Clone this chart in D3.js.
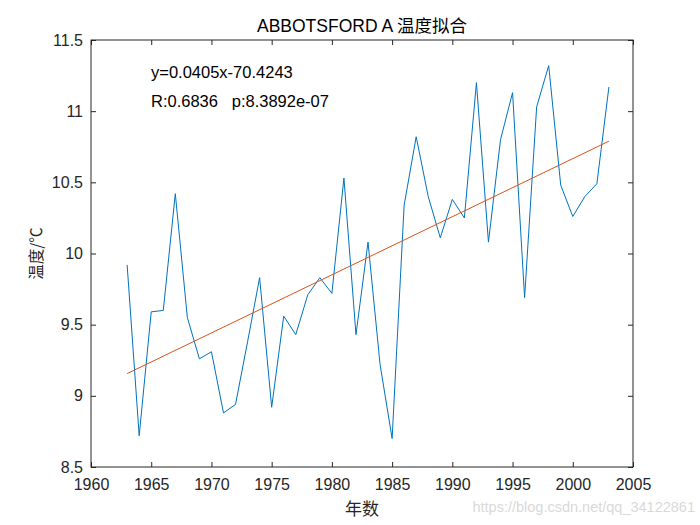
<!DOCTYPE html>
<html><head><meta charset="utf-8">
<script src="https://cdn.jsdelivr.net/npm/d3@7"></script>
<style>body{margin:0;background:#fff}svg{display:block}</style>
</head><body>
<script>
const years = d3.range(1963, 2004);
const temps = [9.92,8.72,9.59,9.60,10.42,9.55,9.26,9.31,8.88,8.94,
  9.38,9.83,8.92,9.56,9.43,9.71,9.83,9.72,10.53,9.43,
  10.08,9.22,8.70,10.34,10.82,10.40,10.11,10.38,10.25,11.20,
  10.08,10.80,11.13,9.69,11.03,11.32,10.48,10.26,10.40,10.49,11.17];
const xTicks = [1960,1965,1970,1975,1980,1985,1990,1995,2000,2005];
const yTicks = [8.5,9,9.5,10,10.5,11,11.5];
const titleText = "ABBOTSFORD A 温度拟合";
const xLabel = "年数";
const yLabel = "温度/℃";
const fitLines = ["y=0.0405x-70.4243", "R:0.6836   p:8.3892e-07"];
const watermark = "https://blog.csdn.net/qq_34122861";

const W = 700, H = 525;
const m = {l: 91, r: 67, t: 40, b: 58};
const svg = d3.select("body").append("svg").attr("width", W).attr("height", H);
const x = d3.scaleLinear().domain([1960, 2005]).range([m.l, W - m.r]);
const y = d3.scaleLinear().domain([8.5, 11.5]).range([H - m.b, m.t]);
const font = "'Liberation Sans', Arial, sans-serif";
const cjk = "'Noto Sans CJK SC', sans-serif";
const fs = 16;

const axB = d3.axisBottom(x).tickValues(xTicks).tickSize(-5).tickPadding(12).tickFormat(d3.format("d"));
const axT = d3.axisTop(x).tickValues(xTicks).tickSize(-5).tickFormat("");
const axL = d3.axisLeft(y).tickValues(yTicks).tickSize(-5).tickPadding(8).tickFormat(d => String(d));
const axR = d3.axisRight(y).tickValues(yTicks).tickSize(-5).tickFormat("");
function style(sel){
  sel.select(".domain").remove();
  sel.selectAll("line").attr("stroke", "#262626").attr("stroke-width", 1);
  sel.selectAll("text").attr("font-family", font).attr("font-size", fs).attr("fill", "#262626");
}
svg.append("g").attr("transform", `translate(0,${H - m.b})`).call(axB).call(style);
svg.append("g").attr("transform", `translate(0,${m.t})`).call(axT).call(style);
svg.append("g").attr("transform", `translate(${m.l},0)`).call(axL).call(style);
svg.append("g").attr("transform", `translate(${W - m.r},0)`).call(axR).call(style);
svg.append("rect").attr("x", m.l).attr("y", m.t).attr("width", W - m.l - m.r).attr("height", H - m.t - m.b)
  .attr("fill", "none").attr("stroke", "#262626").attr("stroke-width", 1);

// data line
const data = years.map((yr, i) => ({yr, v: temps[i]}));
svg.append("path").datum(data).attr("fill", "none").attr("stroke", "#0072BD").attr("stroke-width", 1)
  .attr("d", d3.line().x(d => x(d.yr)).y(d => y(d.v)));

// least-squares fit
const mx = d3.mean(years), my = d3.mean(temps);
const slope = d3.sum(years, (yr, i) => (yr - mx) * (temps[i] - my)) / d3.sum(years, yr => (yr - mx) ** 2);
const icpt = my - slope * mx;
const ends = [years[0], years[years.length - 1]];
svg.append("path").datum(ends).attr("fill", "none").attr("stroke", "#D95319").attr("stroke-width", 1)
  .attr("d", d3.line().x(d => x(d)).y(d => y(slope * d + icpt)));

// annotation
fitLines.forEach((t, i) => {
  svg.append("text").attr("x", 151).attr("y", 78 + i * 29).attr("font-family", font)
    .attr("font-size", 16.5).attr("fill", "#000").attr("xml:space", "preserve").style("white-space", "pre").text(t);
});

// title and labels
svg.append("text").attr("x", (m.l + W - m.r) / 2).attr("y", 32).attr("text-anchor", "middle")
  .attr("font-family", `${font}, ${cjk}`).attr("font-size", 17.5).attr("fill", "#000").text(titleText);
svg.append("text").attr("x", (m.l + W - m.r) / 2).attr("y", 515).attr("text-anchor", "middle")
  .attr("font-family", cjk).attr("font-size", 17).attr("fill", "#262626").text(xLabel);
svg.append("text").attr("transform", `translate(42,${(m.t + H - m.b) / 2}) rotate(-90)`).attr("text-anchor", "middle")
  .attr("font-family", cjk).attr("font-size", 15.5).attr("fill", "#262626").text(yLabel);
svg.append("text").attr("x", 695).attr("y", 512).attr("text-anchor", "end")
  .attr("font-family", font).attr("font-size", 14.5).attr("fill", "#d9d9d9").text(watermark);
</script>
</body></html>
